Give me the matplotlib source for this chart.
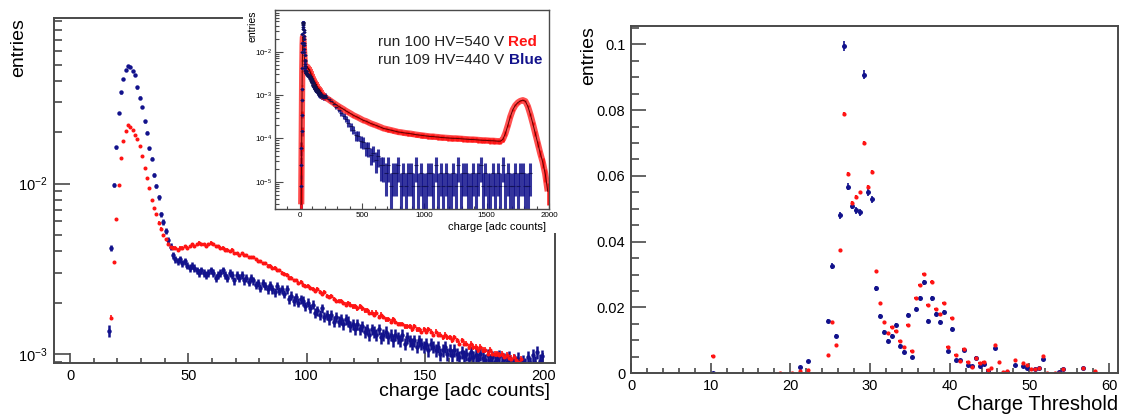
import numpy as np
import matplotlib.pyplot as plt
from matplotlib.ticker import LogLocator, NullFormatter, MultipleLocator, FuncFormatter

plt.rcParams['font.family'] = ['Liberation Sans', 'DejaVu Sans']
plt.rcParams['mathtext.fontset'] = 'custom'
plt.rcParams['mathtext.rm'] = 'Liberation Sans'
plt.rcParams['mathtext.it'] = 'Liberation Sans:italic'
plt.rcParams['mathtext.bf'] = 'Liberation Sans:bold'

W, H = 1126, 418
RED = '#ff1414'
BLUE = '#12128c'
FRAME = '#4a4a4a'

# ---- left panel: charge spectra, 1 adc bins, values in units of 1e-4 ----
red_start = 10.5
red_main = [0.03, 0.08, 0.2, 0.6, 1.6, 4.0, 8.0, 16.3, 34.6, 62.2,
            98, 141, 177, 204, 220, 215, 206, 192, 183, 166,
            145, 124, 108, 94.7, 80.5, 72.2, 66.6, 59, 54.4, 49.7,
            47, 44.4, 42.4, 42, 42, 41, 42, 42, 43, 42,
            43, 44, 43, 44, 45, 44, 44, 43, 44, 45,
            44, 43, 43, 42, 42, 41, 41, 40, 41, 39,
            39, 38, 39, 38, 38, 37, 37, 37, 36, 35,
            35, 34, 34, 33, 33, 32, 32, 31, 31, 30,
            29.5, 29, 28, 28, 27, 27, 26, 26.5, 25.5, 25,
            25, 24.5, 24, 23.5, 24, 23, 22.5, 23, 22, 21.5,
            22, 21, 20.5, 20.5, 20.5, 20, 19.5, 20, 19.5, 19,
            19, 18.5, 19, 18.5, 18, 18, 17.5, 17.5, 17, 17.5,
            16.5, 17, 16.5, 16, 16, 15.5, 16, 15.5, 15, 15,
            15, 14.5, 14.5, 14.5, 14, 14.5, 14, 14, 13.5, 14,
            13.5, 14, 13.5, 13, 13.5, 13, 13, 12.5, 13, 12.5,
            12.5, 12, 12.5, 12, 11.5, 12, 11.5, 11.5, 11, 11.5,
            11, 11, 10.5, 11, 10.5, 10.5, 10, 10.5, 10, 10,
            10, 9.8, 10, 9.6, 9.8, 9.5, 9.4, 9.6, 9.2, 9.0,
            9.3]

blue_start = 10.5
blue_main = [0.08, 0.24, 0.6, 1.5, 3.5, 7.5, 13.7, 42, 98, 163,
             260, 343, 410, 464, 492, 485, 457, 432, 367, 320,
             282, 232, 199, 161, 140, 113, 96.4, 83, 66, 59.5,
             52.6, 46.7, 42.7, 37.9, 36, 35, 36, 34, 35, 33,
             32, 33, 32, 31, 30, 31, 30, 29, 30, 31,
             30, 28, 29, 30, 31, 29, 28, 30, 29, 27,
             29, 28, 29, 27, 28, 26.5, 28, 27, 25.5, 26,
             24.5, 26, 25, 24, 25.5, 24, 23, 25, 23.5, 24,
             22.5, 24, 21, 22, 20.5, 21.5, 20, 21, 20.5, 19,
             20, 18.5, 19.5, 17.5, 18, 17, 18.5, 16.5, 17, 16,
             17, 15.5, 16.5, 15.5, 16, 15, 16, 15.5, 14.5, 15,
             14, 15, 14, 14.5, 13.5, 14, 13, 14, 13.5, 13,
             14, 12.5, 13, 13.5, 12.5, 13, 12, 13, 12.5, 12,
             13, 11.5, 12.5, 12, 11.5, 12, 11, 12, 11.5, 11,
             11.5, 10.5, 11.5, 11, 10.5, 11, 10, 10.5, 11, 10,
             10.5, 9.8, 10.5, 10, 9.6, 10.3, 9.7, 10, 9.4, 10.2,
             9.6, 9.9, 9.3, 10, 9.5, 9.2, 9.8, 9.1, 9.6, 9.0,
             9.4, 9.7, 8.9, 9.3, 9.0, 9.5, 8.8, 9.2, 8.9, 9.4,
             8.7, 9.0, 8.6, 9.6, 8.8, 9.8, 8.9, 10.2, 9.1, 9.7]

# ---- inset: tail of the same spectra, sampled every 20 adc, units of 1e-5 ----
tail_start, tail_step = 210, 20
red_tail = [86, 79, 72, 66, 60, 55, 51, 47, 43, 40,
            37, 34, 32, 30, 28, 26, 25, 23.5, 22, 21,
            20, 19, 18, 17, 16.5, 16, 15.5, 15, 14.5, 14,
            13.8, 13.5, 13.2, 13, 12.8, 12.5, 12.2, 12, 11.8, 11.6,
            11.4, 11.2, 11, 11, 10.8, 10.7, 10.5, 10.4, 10.3, 10.2,
            10.1, 10, 10, 9.9, 9.8, 9.7, 9.6, 9.5, 9.4, 9.4,
            9.3, 9.2, 9.1, 9.0, 9.0, 8.9, 8.8, 8.8, 8.7, 8.6,
            8.6, 9.5, 13, 20, 32, 46, 58, 67, 73, 76,
            72, 55, 36, 22, 13, 7.5, 4.5, 2.8, 1.5, 0.6]
blue_tail = [88, 80, 72, 62, 54, 46, 39, 33, 28, 23,
             19, 16, 12, 11.5, 8.5, 8.2, 6.0, 5.9, 4.2, 4.7,
             3.2, 3.9, 2.4, 2.37, 1.58, 2.37, 0.79, 1.58, 1.58, 2.37,
             0.79, 1.58, 0.79, 1.58, 1.58, 0.79, 2.37, 0.79, 1.58, 0.79,
             0.79, 1.58, 1.58, 0.79, 2.37, 0.79, 1.58, 0.79, 1.58, 0.79,
             0.79, 1.58, 0.79, 2.37, 0.79, 1.58, 1.58, 0.79, 0.79, 1.58,
             0.79, 1.58, 2.37, 0.79, 1.58, 0.79, 0.79, 1.58, 0.79, 1.58,
             0.79, 2.37, 0.79, 1.58, 0.79, 0.79, 1.58, 0.79, 1.58, 1.58,
             0.79, 0.79, 1.58, 0, 0, 0, 0, 0, 0, 0]
N_RED, N_BLUE = 6.0e5, 1.266e5   # entries, for Poisson errors

# ---- right panel: threshold scan ----
red_thr_x = [10.25, 18.75, 20.25, 21.25, 22.25, 24.75, 25.25, 25.75, 26.25, 26.75,
             27.25, 27.75, 28.25, 28.75, 29.25, 29.75, 30.25, 30.75, 31.25, 31.75,
             32.25, 32.75, 33.25, 33.75, 34.25, 34.75, 35.25, 35.75, 36.25, 36.75,
             37.25, 37.75, 38.25, 38.75, 39.25, 39.75, 40.25, 40.75, 41.25, 41.75,
             42.25, 42.75, 43.25, 43.75, 44.25, 44.75, 45.25, 45.75, 46.25, 46.75,
             47.25, 48.25, 49.25, 49.75, 50.25, 50.75, 51.25, 51.75, 52.25, 53.25,
             53.75, 54.25, 56.75, 58.25]
red_thr = [0.0053, 0.0, 0.0002, 0.0007, 0.0010, 0.0055, 0.0157, 0.0087, 0.0374, 0.0788,
           0.0606, 0.0519, 0.0536, 0.0550, 0.0700, 0.0567, 0.0613, 0.0311, 0.0214, 0.0155,
           0.0122, 0.0142, 0.0129, 0.0099, 0.0081, 0.0147, 0.0068, 0.0229, 0.0269, 0.0301,
           0.0208, 0.0279, 0.0196, 0.0180, 0.0214, 0.0081, 0.0167, 0.0057, 0.0037, 0.0073,
           0.0035, 0.0020, 0.0045, 0.0030, 0.0033, 0.0010, 0.0017, 0.0087, 0.0033, 0.0004,
           0.0007, 0.0041, 0.0030, 0.0024, 0.0012, 0.0014, 0.0017, 0.0053, 0.0002, 0.0,
           0.0002, 0.0014, 0.0017, 0.0007]
blue_thr_x = [10.25, 21.25, 22.25, 24.75, 25.25, 25.75, 26.25, 26.75, 27.25, 27.75,
              28.25, 28.75, 29.25, 29.75, 30.25, 30.75, 31.25, 31.75, 32.25, 32.75,
              33.25, 33.75, 34.25, 34.75, 35.25, 35.75, 36.25, 36.75, 37.25, 37.75,
              38.25, 38.75, 39.25, 39.75, 40.25, 40.75, 41.25, 41.75, 42.25, 42.75,
              43.25, 43.75, 44.25, 44.75, 45.75, 46.75, 47.25, 48.25, 49.25, 49.75,
              50.75, 51.25, 51.75, 53.75, 54.25, 56.75, 58.25]
blue_thr = [0.0, 0.0020, 0.0038, 0.0159, 0.0326, 0.0114, 0.0480, 0.0995, 0.0567, 0.0509,
            0.0495, 0.0490, 0.0908, 0.0550, 0.0529, 0.0259, 0.0175, 0.0126, 0.0099, 0.0114,
            0.0147, 0.0084, 0.0066, 0.0177, 0.0050, 0.0196, 0.0229, 0.0277, 0.0160, 0.0228,
            0.0180, 0.0157, 0.0187, 0.0068, 0.0134, 0.0039, 0.0039, 0.0071, 0.0024, 0.0022,
            0.0048, 0.0022, 0.0027, 0.0006, 0.0078, 0.0002, 0.0004, 0.0025, 0.0022, 0.0017,
            0.0012, 0.0015, 0.0043, 0.0004, 0.0012, 0.0015, 0.0002]
N_RED_THR, N_BLUE_THR = 2.0e5, 4.4e4


def box(x0, y0, x1, y1):
    # pixel box (top-left origin) -> figure fraction rect
    return [x0 / W, 1 - y1 / H, (x1 - x0) / W, (y1 - y0) / H]


def poisson(v, n, log=False):
    v = np.asarray(v, float)
    e = np.sqrt(v / n)
    lo = np.minimum(e, v * 0.999) if log else e
    return np.vstack([lo, e])


def frame(ax, lw=1.4):
    for s in ax.spines.values():
        s.set_color(FRAME)
        s.set_linewidth(lw)


fig = plt.figure(figsize=(W / 100, H / 100), dpi=100)

# ---------------- main left panel ----------------
ax = fig.add_axes(box(53.5, 18.3, 555, 363))
ax.set_zorder(1)
xr = red_start + np.arange(len(red_main))
xb = blue_start + np.arange(len(blue_main))
yr = np.array(red_main) * 1e-4
yb = np.array(blue_main) * 1e-4
ax.errorbar(xb, yb, yerr=poisson(yb, N_BLUE, True), fmt='o', ms=3.2, mew=0,
            color=BLUE, ecolor=BLUE, elinewidth=1.8, capsize=0)
ax.errorbar(xr, yr, yerr=poisson(yr, N_RED, True), fmt='o', ms=2.9, mew=0,
            color=RED, ecolor=RED, elinewidth=1.2, capsize=0)
ax.set_yscale('log')
ax.set_xlim(-7, 205)
ax.set_ylim(8.85e-4, 0.0934)
ax.xaxis.set_major_locator(MultipleLocator(50))
ax.xaxis.set_minor_locator(MultipleLocator(10))
ax.yaxis.set_major_locator(LogLocator(base=10))
ax.yaxis.set_minor_locator(LogLocator(base=10, subs=range(2, 10)))
ax.yaxis.set_minor_formatter(NullFormatter())
ax.tick_params(which='both', direction='in', colors=FRAME, labelcolor='black',
               labelsize=10.5, width=1.2, top=False, right=False)
ax.tick_params(axis='x', which='major', length=7.2, pad=4)
ax.tick_params(axis='x', which='minor', length=3.6)
ax.tick_params(axis='y', which='major', length=11.5, pad=4)
ax.tick_params(axis='y', which='minor', length=5.8)
frame(ax)

# white pad behind the inset
pad = fig.add_axes(box(243, 0, 566, 233))
pad.set_zorder(2)
pad.set_facecolor('white')
pad.set_xticks([])
pad.set_yticks([])
for s in pad.spines.values():
    s.set_visible(False)

# ---------------- inset ----------------
ins = fig.add_axes(box(275, 10, 549, 209))
ins.set_zorder(3)
xt = tail_start + tail_step * np.arange(len(red_tail))
ri_x = np.concatenate([xr, xt])
ri_y = np.concatenate([yr, np.array(red_tail) * 1e-5])
bi_x = np.concatenate([xb, xt])
bi_y = np.concatenate([yb, np.array(blue_tail) * 1e-5])
ok = bi_y > 0
bi_x, bi_y = bi_x[ok], bi_y[ok]
ins.errorbar(bi_x, bi_y, yerr=poisson(bi_y, N_BLUE, True), fmt='_', ms=2.5, mew=0.8,
             color='#101050', ecolor=BLUE, elinewidth=2.2, capsize=0, alpha=0.85)
ins.plot(ri_x, ri_y, color=RED, lw=4.5, alpha=0.75, solid_capstyle='butt')
ins.errorbar(ri_x, ri_y, yerr=poisson(ri_y, N_RED, True), fmt='none',
             ecolor=RED, elinewidth=1.8, capsize=0)
ins.plot(ri_x, ri_y, color='#5a0000', lw=0.7)
ins.plot(xb[:40], yb[:40], 'o', ms=1.2, color=BLUE)
ins.set_yscale('log')
ins.set_xlim(-200, 2000)
ins.set_ylim(2.34e-6, 0.0918)
ins.xaxis.set_major_locator(MultipleLocator(500))
ins.xaxis.set_minor_locator(MultipleLocator(100))
ins.yaxis.set_major_locator(LogLocator(base=10))
ins.yaxis.set_minor_locator(LogLocator(base=10, subs=range(2, 10)))
ins.yaxis.set_minor_formatter(NullFormatter())
ins.tick_params(which='both', direction='in', colors=FRAME, labelcolor='black',
                labelsize=5.8, width=0.8, top=False, right=False)
ins.tick_params(axis='x', which='major', length=4.3, pad=2)
ins.tick_params(axis='x', which='minor', length=2.2)
ins.tick_params(axis='y', which='major', length=5.8, pad=2)
ins.tick_params(axis='y', which='minor', length=2.9)
frame(ins, 1.0)

# ---------------- right panel ----------------
ax2 = fig.add_axes(box(631, 25.7, 1118, 373.3))
ax2.errorbar(blue_thr_x, blue_thr, yerr=poisson(blue_thr, N_BLUE_THR), fmt='o', ms=3.6,
             mew=0, color=BLUE, ecolor=BLUE, elinewidth=1.2, capsize=0)
ax2.errorbar(red_thr_x, red_thr, yerr=poisson(red_thr, N_RED_THR), xerr=0.18, fmt='o',
             ms=3.0, mew=0, color=RED, ecolor=RED, elinewidth=1.6, capsize=0)
ax2.set_xlim(0, 61.13)
ax2.set_ylim(0, 0.10565)
ax2.xaxis.set_major_locator(MultipleLocator(10))
ax2.xaxis.set_minor_locator(MultipleLocator(2))
ax2.yaxis.set_major_locator(MultipleLocator(0.02))
ax2.yaxis.set_minor_locator(MultipleLocator(0.005))
ax2.yaxis.set_major_formatter(FuncFormatter(lambda v, p: f"{v:g}"))
ax2.tick_params(which='both', direction='in', colors=FRAME, labelcolor='black',
                labelsize=10.5, width=1.2, top=False, right=False)
ax2.tick_params(axis='x', which='major', length=7.2, pad=4)
ax2.tick_params(axis='x', which='minor', length=3.6)
ax2.tick_params(axis='y', which='major', length=10.8, pad=4)
ax2.tick_params(axis='y', which='minor', length=5.4)
frame(ax2)

# ---------------- labels ----------------
fig.text(19 / W, 1 - 18 / H, 'entries', rotation=90, ha='center', va='top', fontsize=14)
fig.text(550 / W, 1 - 392 / H, 'charge [adc counts]', ha='right', va='center', fontsize=14)
fig.text(589 / W, 1 - 26 / H, 'entries', rotation=90, ha='center', va='top', fontsize=14)
fig.text(1118 / W, 1 - 405 / H, 'Charge Threshold', ha='right', va='center', fontsize=14.5)
fig.text(252 / W, 1 - 10 / H, 'entries', rotation=90, ha='center', va='top', fontsize=7.5,
         zorder=5)
fig.text(546 / W, 1 - 227 / H, 'charge [adc counts]', ha='right', va='center', fontsize=8,
         zorder=5)

renderer = fig.canvas.get_renderer()
for y_px, x_end, head, word, col in [(42, 537, 'run 100 HV=540 V ', 'Red', RED),
                                      (60, 542, 'run 109 HV=440 V ', 'Blue', BLUE)]:
    t = fig.text(x_end / W, 1 - y_px / H, word, ha='right', va='center', fontsize=11,
                 fontweight='bold', color=col, zorder=6)
    bb = t.get_window_extent(renderer)
    fig.text(bb.x0 / W, 1 - y_px / H, head, ha='right', va='center', fontsize=11,
             color='#222222', zorder=6)

fig.savefig('out.png', dpi=100)
